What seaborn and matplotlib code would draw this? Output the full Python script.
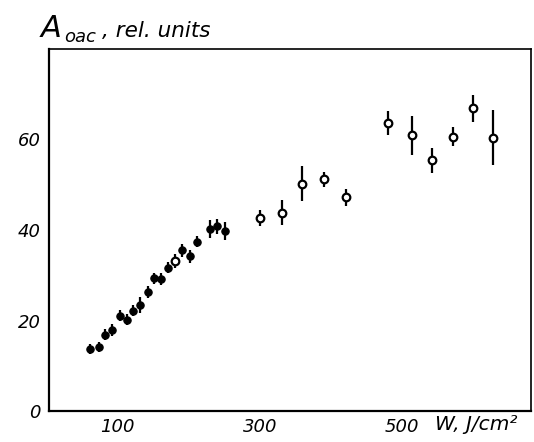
import matplotlib
matplotlib.use("Agg")
import matplotlib.pyplot as plt
import seaborn as sns
import pandas as pd
import numpy as np

# ---- data ----
filled_x = [61, 73, 82, 92, 102.5, 113, 121, 131, 142, 151, 161, 170, 191, 201, 211, 230, 240, 251]
filled_y = [13.7, 14.2, 16.9, 17.9, 21.1, 20.2, 22.2, 23.4, 26.3, 29.3, 29.2, 31.7, 35.5, 34.2, 37.4, 40.3, 40.8, 39.7]
filled_err = [1.1, 1.1, 1.2, 1.3, 1.3, 1.3, 1.3, 1.7, 1.3, 1.2, 1.4, 1.2, 1.4, 1.4, 1.2, 2.0, 1.6, 2.0]

open_x = [181, 300, 331, 360, 391, 421, 481, 514, 542, 572, 600, 629]
open_y = [33.1, 42.6, 43.8, 50.2, 51.2, 47.2, 63.7, 60.9, 55.4, 60.6, 66.9, 60.4]
open_err = [1.6, 1.8, 2.8, 3.9, 1.6, 1.8, 2.6, 4.3, 2.8, 2.1, 3.0, 6.1]

x_ticks = [100, 200, 300, 400, 500, 600]
x_tick_labels = ["100", "", "300", "", "500", ""]
y_ticks = [0, 20, 40, 60]
y_tick_labels = ["0", "20", "40", "60"]

sns.set_style("white")
plt.rcParams['font.family'] = ['DejaVu Sans']
plt.rcParams['text.color'] = 'black'
plt.rcParams['xtick.color'] = 'black'
plt.rcParams['ytick.color'] = 'black'
plt.rcParams['axes.labelcolor'] = 'black'

fig = plt.figure(figsize=(5.34, 4.42), dpi=100)
ax = fig.add_axes([49 / 534, 1 - 411 / 442, 482 / 534, 362 / 442])

df_f = pd.DataFrame({"W": filled_x, "A": filled_y, "e": filled_err})
df_o = pd.DataFrame({"W": open_x, "A": open_y, "e": open_err})

ax.errorbar(df_f["W"], df_f["A"], yerr=df_f["e"], fmt="none", ecolor="black",
            elinewidth=1.6, capsize=0, zorder=2)
ax.errorbar(df_o["W"], df_o["A"], yerr=df_o["e"], fmt="none", ecolor="black",
            elinewidth=1.6, capsize=0, zorder=2)
sns.scatterplot(data=df_f, x="W", y="A", ax=ax, marker="o", s=28, color="black",
                edgecolor="black", linewidth=0.8, zorder=3, legend=False)
sns.scatterplot(data=df_o, x="W", y="A", ax=ax, marker="o", s=30, color="white",
                edgecolor="black", linewidth=1.6, zorder=3, legend=False)

ax.set_xlim(3, 682)
ax.set_ylim(0, 80)
ax.set_xticks(x_ticks)
ax.set_xticklabels(x_tick_labels)
ax.set_yticks(y_ticks)
ax.set_yticklabels(y_tick_labels)
ax.set_xlabel("")
ax.set_ylabel("")
ax.tick_params(axis="both", direction="in", length=8, width=1.3, color="black",
               labelcolor="black", labelsize=13, pad=5)
ax.tick_params(axis="y", pad=6)
for lab in ax.get_xticklabels() + ax.get_yticklabels():
    lab.set_fontstyle("italic")

for side in ["left", "bottom", "top", "right"]:
    ax.spines[side].set_visible(True)
    ax.spines[side].set_color("black")
ax.spines["left"].set_linewidth(1.6)
ax.spines["bottom"].set_linewidth(1.6)
ax.spines["top"].set_linewidth(1.2)
ax.spines["right"].set_linewidth(1.2)

# y-axis title: "A" with subscript "oac", then ", rel. units"
fig.text(41 / 534, 1 - 37 / 442, "A", fontsize=22, fontstyle="italic",
         color="black", ha="left", va="baseline")
fig.text(64 / 534, 1 - 42 / 442, "oac", fontsize=13, fontstyle="italic",
         color="black", ha="left", va="baseline")
fig.text(102 / 534, 1 - 37 / 442, ", rel. units", fontsize=15.5, fontstyle="italic",
         color="black", ha="left", va="baseline")
fig.text(435 / 534, 1 - 425 / 442, "W, J/cm²", fontsize=14.5, fontstyle="italic",
         color="black", ha="left", va="center")

fig.savefig("out.png", dpi=100)
